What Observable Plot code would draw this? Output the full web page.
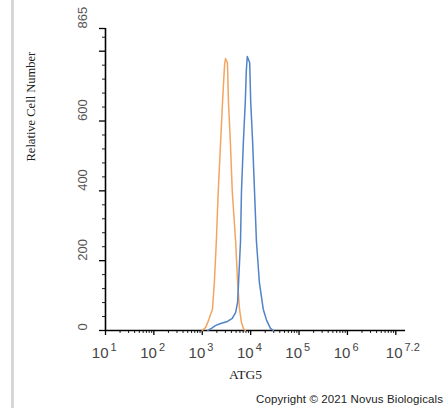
<!DOCTYPE html>
<html><head><meta charset="utf-8">
<script src="https://cdn.jsdelivr.net/npm/d3@7"></script>
<script src="https://cdn.jsdelivr.net/npm/@observablehq/plot@0.6"></script>
<style>
body{margin:0;background:#fff;width:448px;height:408px;overflow:hidden;position:relative}
#edge{position:absolute;left:11px;top:0;width:3px;height:408px;background:#d6d6d6}
#chart{position:absolute;left:0;top:0}
#caption{position:absolute;left:256px;top:392px;font-family:"Liberation Sans",Arial,sans-serif;font-size:11.5px;letter-spacing:0.1px;white-space:nowrap;color:#222;line-height:14px}
</style></head>
<body>
<div id="edge"></div>
<div id="chart"></div>
<div id="caption">Copyright © 2021 Novus Biologicals</div>
<script>
// Fluorescence intensity as log10 exponent, and cell counts
const isotypeLog   = [3.00,3.07,3.13,3.21,3.25,3.29,3.33,3.38,3.42,3.46,3.48,3.52,3.54,3.58,3.62,3.69,3.73,3.77,3.81,3.85,3.89];
const isotypeCount = [0,   9,   29,  61,  138, 254, 398, 542, 658, 759, 779, 767, 658, 542, 398, 254, 138, 61,  23,  6,   0];
const atg5Log   = [3.11,3.19,3.27,3.38,3.52,3.62,3.69,3.73,3.75,3.79,3.81,3.85,3.89,3.91,3.93,3.98,4.00,4.04,4.08,4.12,4.18,4.26,4.33,4.41,4.47];
const atg5Count = [0,   6,   14,  20,  26,  35,  52,  81,  138, 254, 398, 542, 658, 744, 785, 767, 658, 542, 398, 254, 138, 61,  29,  6,   0];

const xLabelExp = ["1","2","3","4","5","6","7.2"];
const xMajor = [1,2,3,4,5,6,7];
const yLabels = [0,200,400,600,865];
const yMajor = [0,200,400,600,800,865];
const yMinor = [40,80,120,160,240,280,320,360,440,480,520,560,640,680,720,760,840];
const xMinor = [];
for (let n = 1; n <= 7; n++) for (let k = 2; k <= 9; k++) { const v = n + Math.log10(k); if (v < 7.2) xMinor.push(v); }

const orange = isotypeLog.map((e,i)=>({e, c: isotypeCount[i]}));
const blue = atg5Log.map((e,i)=>({e, c: atg5Count[i]}));

const sans = "'Liberation Sans', Arial, sans-serif";
const serif = "'Liberation Serif', 'Times New Roman', serif";

const xLabelMarks = xLabelExp.flatMap(d => {
  const last = d.length > 1;
  return [
    Plot.text([d], {x: v => +v, frameAnchor: "bottom", lineAnchor: "middle", text: () => "10", textAnchor: "end",
      dx: last ? -3 : 3, dy: 23, fontSize: 15, fill: "#444", fontFamily: sans}),
    Plot.text([d], {x: v => +v, frameAnchor: "bottom", lineAnchor: "middle", text: v => v, textAnchor: "start",
      dx: last ? -1 : 5, dy: 17, fontSize: 11, fill: "#444", fontFamily: sans})
  ];
});

const plot = Plot.plot({
  width: 448, height: 392,
  marginLeft: 105, marginRight: 43, marginTop: 28, marginBottom: 62,
  x: {domain: [1, 7.2]},
  y: {domain: [0, 865]},
  style: {background: "transparent", overflow: "visible"},
  marks: [
    Plot.axisX({ticks: xMinor, tickSize: 3, tickFormat: () => "", label: null, stroke: "#222"}),
    Plot.axisX({ticks: xMajor, tickSize: 5, tickFormat: () => "", label: null, stroke: "#000", strokeWidth: 1.3}),
    Plot.axisY({ticks: yMinor, tickSize: 3, tickFormat: () => "", label: null, stroke: "#222"}),
    Plot.axisY({ticks: yMajor, tickSize: 6, tickFormat: () => "", label: null, stroke: "#000", strokeWidth: 1.3}),
    Plot.ruleY([0], {stroke: "#000", strokeWidth: 1.6}),
    Plot.ruleX([1], {stroke: "#000", strokeWidth: 1.6}),
    Plot.line(orange, {x: "e", y: "c", stroke: "#f2a561", strokeWidth: 1.5}),
    Plot.line(blue, {x: "e", y: "c", stroke: "#5183c9", strokeWidth: 1.5}),
    ...xLabelMarks,
    Plot.text(yLabels, {y: d => d, frameAnchor: "left", text: d => String(d), rotate: -90,
      dx: -23, fontSize: 13, fill: "#555", fontFamily: sans}),
    Plot.text(["Relative Cell Number"], {frameAnchor: "left", text: d => d, rotate: -90,
      dx: -75, dy: -18, fontSize: 12.5, fill: "#222", fontFamily: serif}),
    Plot.text(["ATG5"], {frameAnchor: "bottom", text: d => d, dx: -10, dy: 48,
      fontSize: 13.5, fill: "#222", fontFamily: serif})
  ]
});
document.getElementById("chart").appendChild(plot);
</script>
</body></html>
